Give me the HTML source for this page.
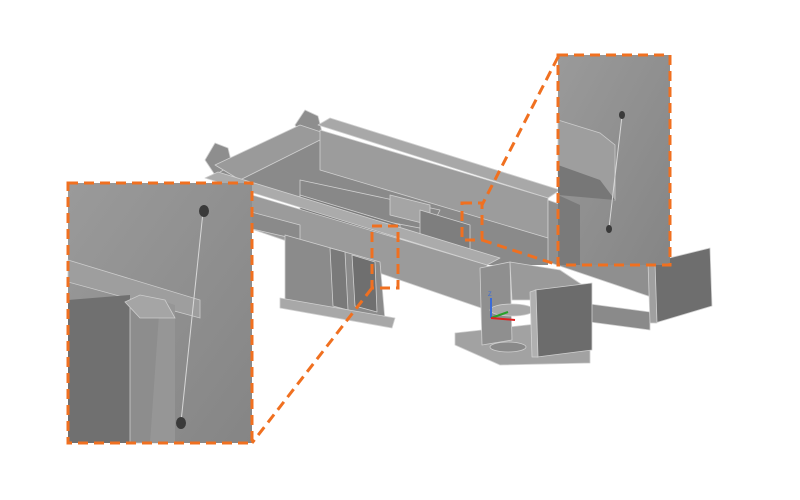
<!DOCTYPE html>
<html><head><meta charset="utf-8"><style>
html,body{margin:0;padding:0;background:#fff;width:800px;height:500px;overflow:hidden}
</style></head><body>
<svg width="800" height="500" viewBox="0 0 800 500" xmlns="http://www.w3.org/2000/svg">
<defs>
<linearGradient id="ins" x1="0" y1="0" x2="1" y2="1">
<stop offset="0" stop-color="#9a9a9a"/><stop offset="1" stop-color="#858585"/></linearGradient>
</defs>
<g stroke="#d0d0d0" stroke-width="0.8" stroke-linejoin="round">
<!-- filler between beams -->
<polygon points="215,170 320,130 548,200 548,265 487,265 230,185" fill="#8a8a8a" stroke="none"/>
<!-- rear cross members / ears -->
<polygon points="205,160 215,143 228,148 232,165 215,175" fill="#8e8e8e"/>
<polygon points="295,125 305,110 318,116 322,132 305,140" fill="#8e8e8e"/>
<polygon points="215,165 300,125 330,135 240,180" fill="#9a9a9a"/>
<!-- back beam -->
<polygon points="318,125 330,118 560,190 548,198" fill="#a8a8a8"/>
<polygon points="320,130 548,198 548,238 320,170" fill="#9c9c9c"/>
<polygon points="300,180 440,210 430,230 300,205" fill="#888"/>
<polygon points="300,195 400,225 400,240 300,215" fill="#7a7a7a"/>
<polygon points="390,195 430,205 430,225 390,215" fill="#a5a5a5"/>
<polygon points="420,210 470,225 470,255 420,240" fill="#7e7e7e"/>
<!-- beams to the right -->
<polygon points="548,200 660,240 660,300 548,262" fill="#8f8f8f"/>
<polygon points="560,300 650,312 650,330 560,318" fill="#8a8a8a"/>
<!-- right plates -->
<polygon points="653,262 710,248 712,306 655,323" fill="#6e6e6e"/>
<polygon points="648,262 655,262 657,323 650,323" fill="#a0a0a0"/>
<!-- front beam -->
<polygon points="205,178 218,172 500,258 487,265" fill="#ababab"/>
<polygon points="215,184 487,265 487,310 240,225" fill="#9b9b9b"/>
<polygon points="225,205 300,225 300,240 235,225" fill="#8a8a8a"/>
<!-- support under front beam -->
<polygon points="285,235 380,262 385,320 285,300" fill="#8b8b8b"/>
<polygon points="330,248 345,252 348,310 333,306" fill="#7a7a7a"/>
<polygon points="352,255 375,262 377,312 355,306" fill="#6f6f6f"/>
<polygon points="280,298 395,318 392,328 280,308" fill="#a8a8a8"/>
<!-- bracket -->
<polygon points="455,333 545,323 590,345 590,363 500,365 455,345" fill="#a2a2a2"/>
<ellipse cx="508" cy="347" rx="18" ry="5" fill="#8a8a8a"/>
<polygon points="480,268 510,262 512,340 482,345" fill="#8f8f8f"/>
<polygon points="510,262 560,270 590,290 535,300 512,300" fill="#9a9a9a"/>
<ellipse cx="512" cy="310" rx="22" ry="6" fill="#a8a8a8"/>
<polygon points="535,290 592,283 592,350 537,357" fill="#6c6c6c"/>
<polygon points="530,292 536,290 538,357 532,357" fill="#b0b0b0"/>
</g>
<!-- axis triad -->
<line x1="491" y1="318" x2="491" y2="298" stroke="#3a6bd8" stroke-width="2"/>
<text x="488" y="296" font-family="Liberation Sans,sans-serif" font-size="6" fill="#3a6bd8">Z</text>
<line x1="491" y1="318" x2="508" y2="312" stroke="#2aa02a" stroke-width="2"/>
<line x1="491" y1="318" x2="515" y2="320" stroke="#e02020" stroke-width="2"/>
<!-- insets -->
<g>
<rect x="68" y="183" width="184" height="260" fill="url(#ins)"/>
<polygon points="68,260 200,300 200,318 68,282" fill="#9e9e9e" stroke="#ccc" stroke-width="0.8"/>
<polygon points="68,300 130,295 130,443 68,443" fill="#707070"/>
<polygon points="130,300 160,300 160,443 130,443" fill="#8d8d8d" stroke="#ccc" stroke-width="0.8"/>
<polygon points="160,300 175,305 175,443 150,443" fill="#969696"/>
<polygon points="125,302 140,295 165,300 175,318 140,318" fill="#a5a5a5" stroke="#ccc" stroke-width="0.8"/>
<line x1="203" y1="212" x2="181" y2="422" stroke="#d8d8d8" stroke-width="1"/>
<ellipse cx="204" cy="211" rx="5" ry="6" fill="#3a3a3a"/>
<ellipse cx="181" cy="423" rx="5" ry="6" fill="#3a3a3a"/>
<rect x="558" y="55" width="112" height="210" fill="url(#ins)"/>
<polygon points="558,120 600,133 615,145 615,200 558,175" fill="#9e9e9e" stroke="#ccc" stroke-width="0.8"/>
<polygon points="558,165 600,180 615,200 558,195" fill="#777"/>
<polygon points="558,195 580,205 580,265 558,265" fill="#7a7a7a"/>
<line x1="622" y1="116" x2="609" y2="228" stroke="#d8d8d8" stroke-width="1"/>
<ellipse cx="622" cy="115" rx="3" ry="4" fill="#3a3a3a"/>
<ellipse cx="609" cy="229" rx="3" ry="4" fill="#3a3a3a"/>
</g>
<g fill="none" stroke="#f07020" stroke-width="3" stroke-dasharray="10,6">
<rect x="68" y="183" width="184" height="260"/>
<rect x="558" y="55" width="112" height="210"/>
<rect x="372" y="226" width="26" height="62"/>
<rect x="462" y="203" width="20" height="37"/>
<line x1="372" y1="288" x2="252" y2="443"/>
<line x1="558" y1="57" x2="482" y2="205"/>
<line x1="482" y1="240" x2="558" y2="265"/>
</g>
</svg>
</body></html>
